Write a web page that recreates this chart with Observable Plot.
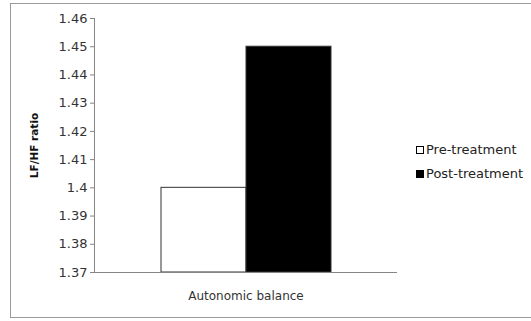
<!DOCTYPE html>
<html>
<head>
<meta charset="utf-8">
<script src="https://cdn.jsdelivr.net/npm/d3@7"></script>
<script src="https://cdn.jsdelivr.net/npm/@observablehq/plot@0.6"></script>
<style>
  html, body { margin: 0; padding: 0; background: #fff; }
  #wrap { position: relative; width: 531px; height: 321px; overflow: hidden; font-family: "DejaVu Sans", sans-serif; }
  #border { position: absolute; left: 10px; top: 3px; width: 540px; height: 315px; border: 1px solid #9a9a9a; box-sizing: border-box; }
  #chart { position: absolute; left: 0; top: 0; }
  #legend { position: absolute; left: 416px; top: 138px; font-size: 13px; color: #222; line-height: 24px; }
  #legend .row { display: flex; align-items: center; white-space: nowrap; }
  #legend .sw { width: 8px; height: 8px; box-sizing: border-box; border: 1px solid #000; margin-right: 2px; }
  svg [aria-label="y-axis label"] text, svg [aria-label="y-axis label"] { font-weight: bold; font-size: 10.5px; fill: #111; }
</style>
</head>
<body>
<div id="wrap">
  <div id="border"></div>
  <div id="chart"></div>
  <div id="legend"></div>
</div>
<script>
const categories = ["Autonomic balance"];
const series = ["Pre-treatment", "Post-treatment"];
const values = [1.40, 1.45];
const seriesFills = ["#ffffff", "#000000"];
const yDomain = [1.37, 1.46];
const yTicks = [1.37, 1.38, 1.39, 1.40, 1.41, 1.42, 1.43, 1.44, 1.45, 1.46];
const yLabel = "LF/HF ratio";

const data = series.map((s, i) => ({category: categories[0], series: s, value: values[i]}));

const chart = Plot.plot({
  width: 531,
  height: 321,
  marginLeft: 94,
  marginRight: 134,
  marginTop: 18,
  marginBottom: 49,
  style: {fontFamily: "DejaVu Sans", fontSize: "13px", color: "#333", background: "transparent", overflow: "visible"},
  fx: {domain: categories, padding: 0, label: null},
  x: {domain: series, paddingInner: 0, paddingOuter: 0.762, axis: null},
  y: {domain: yDomain, axis: null},
  color: {domain: series, range: seriesFills},
  marks: [
    Plot.barY(data, {fx: "category", x: "series", y1: yDomain[0], y2: "value", fill: "series", stroke: "#333", strokeWidth: 1}),
    Plot.ruleY([yDomain[0]], {stroke: "#868686"}),
    Plot.frame({anchor: "left", stroke: "#868686"}),
    Plot.axisY({ticks: yTicks, tickFormat: d => String(+d.toFixed(2)), tickSize: 4, tickPadding: 3, stroke: "#868686",
      label: yLabel, labelAnchor: "center", labelOffset: 64, labelArrow: "none", fontSize: 13}),
    Plot.axisFx({anchor: "bottom", tickSize: 0, tickPadding: 19, label: null, fontSize: 12})
  ]
});
document.getElementById("chart").appendChild(chart);

const legend = document.getElementById("legend");
series.forEach((s, i) => {
  const row = document.createElement("div");
  row.className = "row";
  const sw = document.createElement("span");
  sw.className = "sw";
  sw.style.background = seriesFills[i];
  row.appendChild(sw);
  const t = document.createElement("span");
  t.textContent = s;
  row.appendChild(t);
  legend.appendChild(row);
});
</script>
</body>
</html>
